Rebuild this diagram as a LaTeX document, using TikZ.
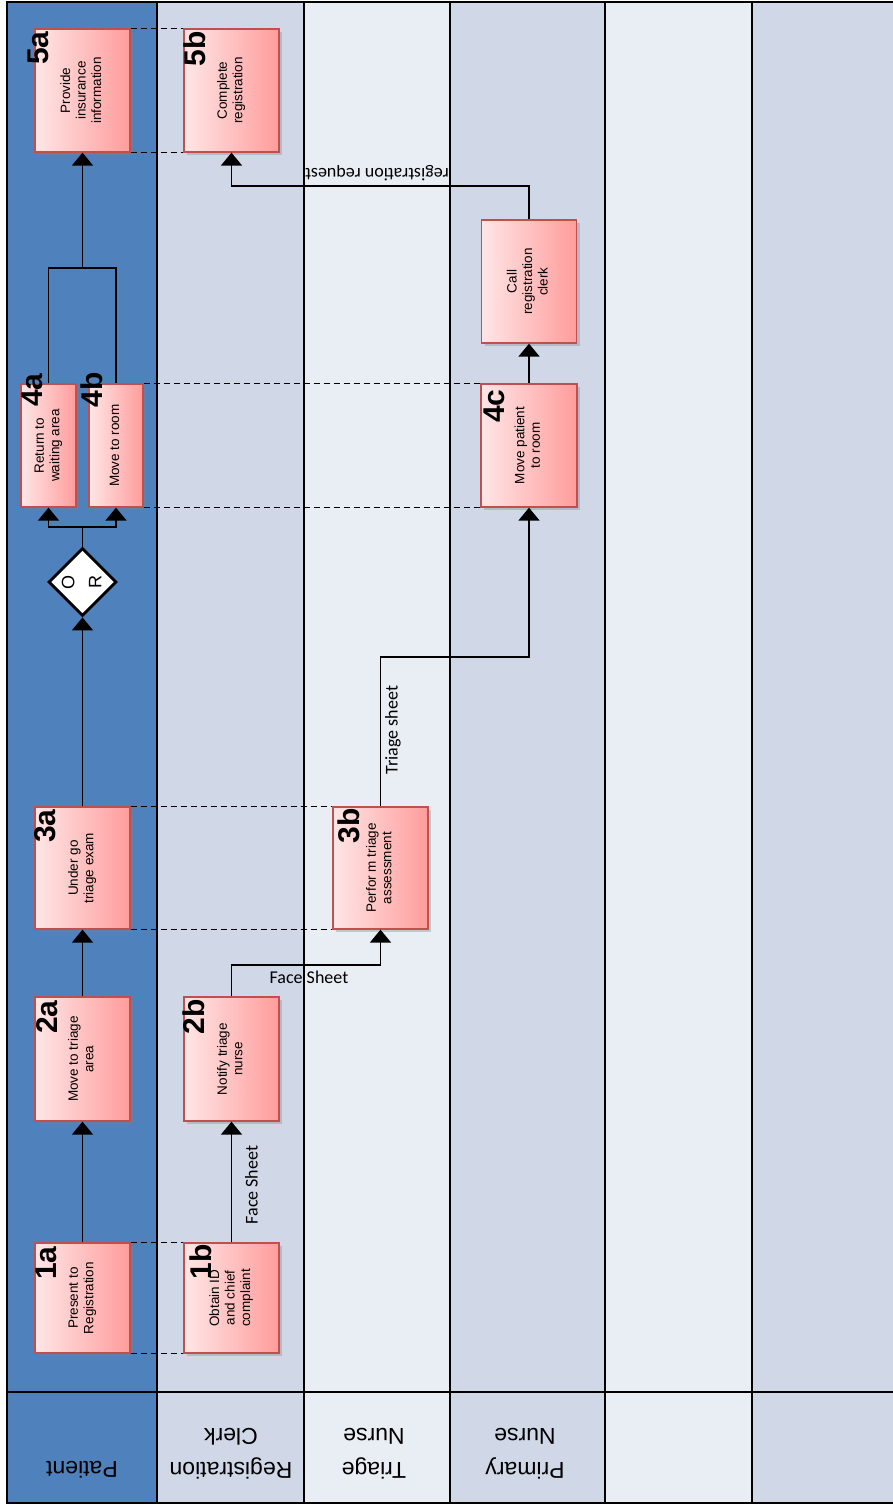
\documentclass[tikz,border=0pt]{standalone}
\usepackage{fontspec}
\setmainfont{Liberation Sans}
\newfontfamily\calib{Carlito}
\usetikzlibrary{arrows.meta,shapes.geometric,shadows,calc}

\definecolor{lblue}{HTML}{4F81BD}
\definecolor{lgrey}{HTML}{D0D8E8}
\definecolor{lpale}{HTML}{E9EDF4}
\definecolor{bord}{HTML}{C0504D}
\definecolor{pinkL}{HTML}{FFE6E6}
\definecolor{pinkR}{HTML}{FF9C9C}

\newcommand\rtxt[1]{\rotatebox{90}{\begin{tabular}{@{}c@{}}#1\end{tabular}}}

\begin{document}
\begin{tikzpicture}[x=1pt,y=-1pt,
  task/.style={rectangle, draw=bord, line width=1.3pt, left color=pinkL, right color=pinkR,
    drop shadow={shadow xshift=3pt,shadow yshift=-3pt,opacity=0.35},
    inner sep=0pt, font=\fontsize{13.5}{15.5}\selectfont},
  num/.style={rotate=90, font=\fontsize{30}{30}\selectfont\bfseries, inner sep=0pt},
  arr/.style={line width=1.8pt, -{Triangle[width=21pt,length=13pt]}},
  conn/.style={line width=1.8pt},
  link/.style={dash pattern=on 6pt off 4pt, line width=1.5pt},
  lane/.style={draw=black, line width=1.8pt},
  hdr/.style={align=center, rotate=180, font=\fontsize{23}{34}\selectfont},
  flab/.style={font=\calib\fontsize{18}{20}\selectfont, inner sep=1pt}
]
\useasboundingbox (0,0) rectangle (892,1505);
\fill[white] (0,0) rectangle (892,1505);
% lanes
\fill[lblue] (7,2) rectangle (157,1503);
\fill[lgrey] (157,2) rectangle (304,1503);
\fill[lpale] (304,2) rectangle (450,1503);
\fill[lgrey] (450,2) rectangle (605,1503);
\fill[lpale] (605,2) rectangle (752,1503);
\fill[lgrey] (752,2) rectangle (894,1503);
\foreach \xx in {157,304,450,605,752} \draw[lane] (\xx,2) -- (\xx,1503);
\draw[lane] (7,1392) -- (894,1392);
\draw[line width=2.2pt] (7,2) rectangle (894,1503);

% headers
\node[hdr] (hp) at (82,1470) {Patient};
\node[hdr] (hr) at (231,1454) {Registration\\Clerk};
\node[hdr] (ht) at (374,1454) {Triage\\Nurse};
\node[hdr] (hn) at (525,1454) {Primary\\Nurse};

% tasks
\node[task, minimum width=95pt, minimum height=110pt] (b1a) at (82.5,1298) {\rtxt{Present to\\Registration}};
\node[task, minimum width=95pt, minimum height=110pt] (b1b) at (231.5,1298) {\rtxt{Obtain ID\\and chief\\complaint}};
\node[task, minimum width=95pt, minimum height=124pt] (b2a) at (82.5,1059) {\rtxt{Move to triage\\area}};
\node[task, minimum width=95pt, minimum height=124pt] (b2b) at (231.5,1059) {\rtxt{Notify triage\\nurse}};
\node[task, minimum width=95pt, minimum height=122pt] (b3a) at (82.5,868) {\rtxt{Under go\\triage exam}};
\node[task, minimum width=95pt, minimum height=122pt] (b3b) at (380.5,868) {\rtxt{Perfor m triage\\assessment}};
\node[diamond, aspect=1, draw=black, fill=white, line width=2.8pt, minimum width=68pt, minimum height=68pt, inner sep=0pt, font=\fontsize{18}{27}\selectfont] (or) at (82.5,582) {\rtxt{O\\R}};
\node[task, minimum width=55pt, minimum height=123pt] (b4a) at (48.5,445.5) {\rtxt{Return to\\waiting area}};
\node[task, minimum width=54pt, minimum height=123pt] (b4b) at (116,445.5) {\rtxt{Move to room}};
\node[task, minimum width=96pt, minimum height=123pt] (b4c) at (529,445.5) {\rtxt{Move patient\\to room}};
\node[task, minimum width=95pt, minimum height=123pt] (bcall) at (529,281.5) {\rtxt{Call\\registration\\clerk}};
\node[task, minimum width=95pt, minimum height=123pt] (b5a) at (82.5,90.5) {\rtxt{Provide\\insurance\\information}};
\node[task, minimum width=95pt, minimum height=123pt] (b5b) at (231.5,90.5) {\rtxt{Complete\\registration}};

% numbers
\node[num] (n1a) at (46,1263) {1a};
\node[num] (n1b) at (201,1262) {1b};
\node[num] (n2a) at (47,1017) {2a};
\node[num] (n2b) at (194,1017) {2b};
\node[num] (n3a) at (45,826) {3a};
\node[num] (n3b) at (349,826) {3b};
\node[num] (n4a) at (32,390) {4a};
\node[num] (n4b) at (92,390) {4b};
\node[num] (n4c) at (494,406) {4c};
\node[num] (n5a) at (38,48) {5a};
\node[num] (n5b) at (195,49) {5b};

% dashed links
\draw[link] (b1a.north east) -- (b1b.north west);
\draw[link] (b1a.south east) -- (b1b.south west);
\draw[link] (b3a.north east) -- (b3b.north west);
\draw[link] (b3a.south east) -- (b3b.south west);
\draw[link] (b4b.north east) -- (b4c.north west);
\draw[link] (b4b.south east) -- (b4c.south west);
\draw[link] (b5a.north east) -- (b5b.north west);
\draw[link] (b5a.south east) -- (b5b.south west);

% junction coordinates
\coordinate (j1) at (0,965);
\coordinate (j2) at (0,527);
\coordinate (j3) at (0,657);
\coordinate (j4) at (0,268);
\coordinate (j5) at (0,186);

% connectors
\draw[arr] (b1a.north) -- (b2a.south);
\draw[arr] (b1b.north) -- (b2b.south);
\draw[arr] (b2a.north) -- (b3a.south);
\draw[arr] (b2b.north) -- (b2b.north |- j1) -| (b3b.south);
\draw[arr] (b3a.north) -- (or.south);
\draw[conn] (or.north) -- (or.north |- j2);
\draw[arr] (or.north |- j2) -| (b4a.south);
\draw[arr] (or.north |- j2) -| (b4b.south);
\draw[arr] (b3b.north) -- (b3b.north |- j3) -| (b4c.south);
\draw[conn] (b4a.north) |- (b5a.south |- j4) -| (b4b.north);
\draw[arr] (b5a.south |- j4) -- (b5a.south);
\draw[arr] (b4c.north) -- (bcall.south);
\draw[arr] (bcall.north) -- (bcall.north |- j5) -| (b5b.south);

% connector labels
\node[flab, rotate=90] (lfs1) at (251.5,1185) {Face Sheet};
\node[flab] (lfs2) at (309,977) {Face Sheet};
\node[flab, rotate=90] (lts) at (393,730) {Triage sheet};
\node[flab, rotate=180] (lrr) at (377,173) {registration request};
\end{tikzpicture}
\end{document}
